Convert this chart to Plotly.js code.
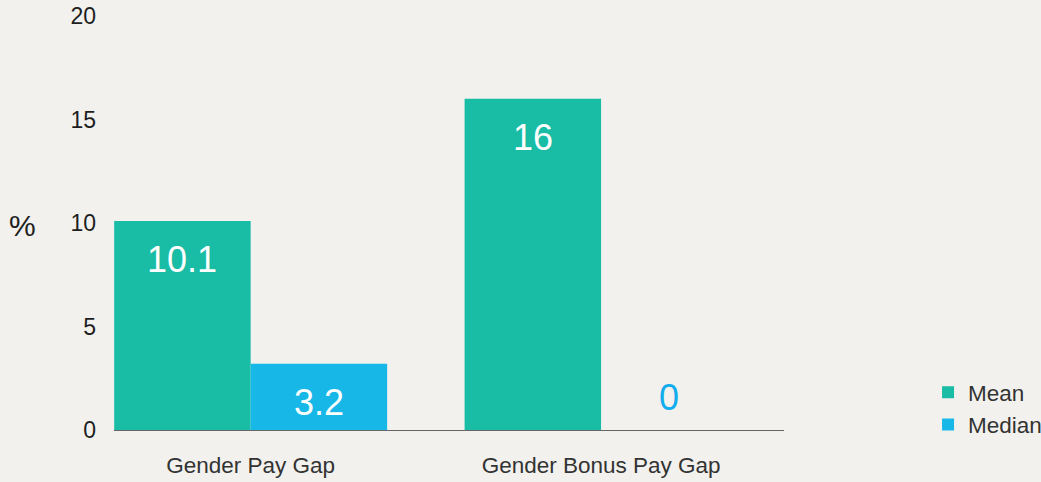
<!DOCTYPE html>
<html>
<head>
<meta charset="utf-8">
<script src="https://cdn.plot.ly/plotly-3.0.1.min.js"></script>
<style>
  html, body { margin: 0; padding: 0; background: #f2f1ee; }
  #chart { width: 1041px; height: 482px; }
</style>
</head>
<body>
<div id="chart"></div>
<script>
const categories = ['Gender Pay Gap', 'Gender Bonus Pay Gap'];
const meanValues = [10.1, 16];
const medianValues = [3.2, 0];
const meanLabels = ['10.1', '16'];
const medianLabels = ['3.2', '0'];
const yTicks = [0, 5, 10, 15, 20];

const tealColor = '#19bca5';
const blueColor = '#17b7e7';
const zeroLabelColor = '#12adec';
const font = 'Liberation Sans, Arial, Helvetica, sans-serif';

const groupWidth = 0.779;
const half = groupWidth / 4;

const traces = [
  { type: 'bar', name: 'Mean', x: categories, y: meanValues, marker: { color: tealColor }, hoverinfo: 'skip' },
  { type: 'bar', name: 'Median', x: categories, y: medianValues, marker: { color: blueColor }, hoverinfo: 'skip' }
];

const annotations = [];
function addLabels(values, labels, offset) {
  values.forEach((v, i) => {
    const zero = v === 0;
    annotations.push({
      x: i + offset, y: v, xref: 'x', yref: 'y',
      text: labels[i], showarrow: false,
      yanchor: 'middle', xanchor: 'center',
      yshift: zero ? 33 : -39,
      font: { family: font, size: 36, color: zero ? zeroLabelColor : '#ffffff' }
    });
  });
}
addLabels(meanValues, meanLabels, -half);
addLabels(medianValues, medianLabels, half);

annotations.push({
  xref: 'paper', yref: 'paper', x: -0.136, y: 0.495,
  xanchor: 'center', yanchor: 'middle', showarrow: false,
  text: '%', font: { family: font, size: 30, color: '#222222' }
});

const layout = {
  width: 1041, height: 482,
  margin: { l: 114, r: 257, t: 16, b: 52, pad: 0, autoexpand: false },
  paper_bgcolor: '#f2f1ee', plot_bgcolor: '#f2f1ee',
  barmode: 'group', bargap: 1 - groupWidth, bargroupgap: 0,
  showlegend: true,
  legend: {
    x: 1.215, y: 0.142, xanchor: 'left', yanchor: 'top',
    bgcolor: 'rgba(0,0,0,0)', font: { family: font, size: 22.5, color: '#333333' },
    traceorder: 'normal'
  },
  xaxis: {
    type: 'category', range: [-0.39, 1.522],
    showgrid: false, zeroline: false,
    showline: true, linecolor: '#666666', linewidth: 1,
    ticks: '', ticklabelstandoff: 15,
    tickfont: { family: font, size: 22.5, color: '#333333' },
    fixedrange: true
  },
  yaxis: {
    range: [0, 20], tickvals: yTicks, ticktext: yTicks.map(String),
    showgrid: false, zeroline: false, showline: false,
    ticks: '', ticklabelstandoff: 17,
    tickfont: { family: font, size: 23, color: '#1e1e1e' },
    fixedrange: true
  },
  annotations: annotations
};

Plotly.newPlot('chart', traces, layout, { displayModeBar: false, staticPlot: true });
</script>
</body>
</html>
